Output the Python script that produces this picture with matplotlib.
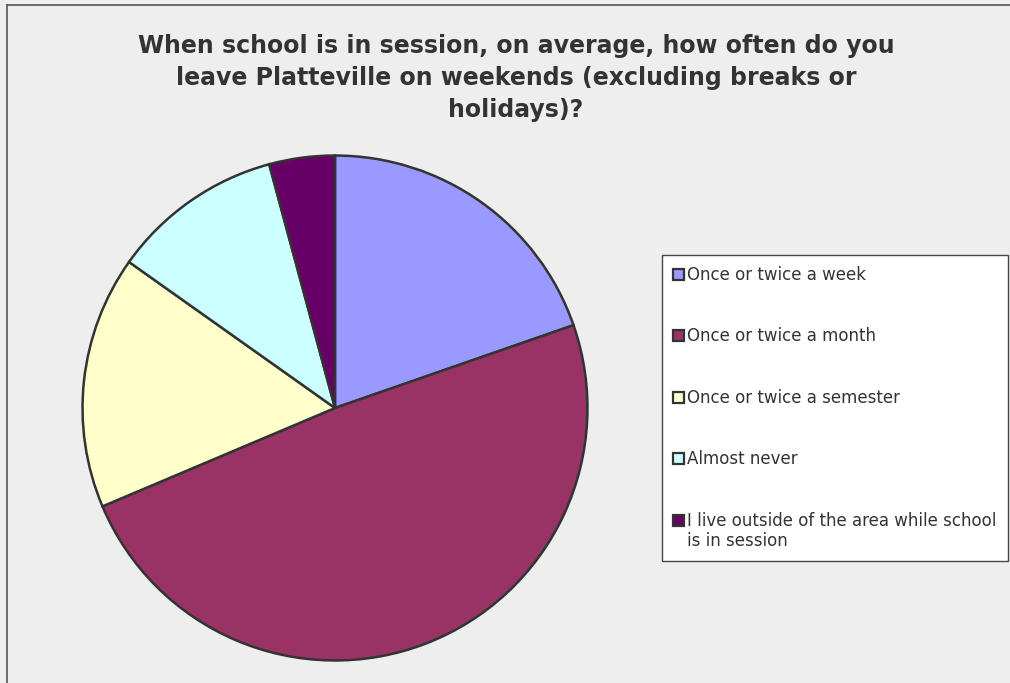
import matplotlib.pyplot as plt
from matplotlib.lines import Line2D
from matplotlib.patches import Rectangle

categories = [
    "Once or twice a week",
    "Once or twice a month",
    "Once or twice a semester",
    "Almost never",
    "I live outside of the area while school\nis in session",
]
shares = [19.7, 49.0, 16.2, 11.0, 4.2]
colors = ["#9999FF", "#993366", "#FFFFCC", "#CCFFFF", "#660066"]
title = ("When school is in session, on average, how often do you\n"
         "leave Platteville on weekends (excluding breaks or\n"
         "holidays)?")

W, H = 1010, 683
fig = plt.figure(figsize=(W / 100, H / 100), dpi=100)
fig.patch.set_facecolor("#EEEEEE")

def px(x, y, w=0, h=0):
    # pixel box (top-left origin) -> figure fraction
    return [x / W, 1 - (y + h) / H, w / W, h / H]

# outer chart frame (only top and left edges are visible)
fig.add_artist(Line2D([7 / W, 7 / W], [0, 1 - 5 / H], transform=fig.transFigure,
                      color="#555555", lw=1.2))
fig.add_artist(Line2D([7 / W, 1], [1 - 5 / H, 1 - 5 / H], transform=fig.transFigure,
                      color="#555555", lw=1.2))

fig.text(516 / W, 1 - 78 / H, title, ha="center", va="center", fontsize=17,
         fontweight="bold", color="#333333", linespacing=1.4)

cx, cy, r = 335, 408, 255
ax = fig.add_axes(px(cx - r, cy - r, 2 * r, 2 * r))
ax.pie(shares, colors=colors, startangle=90, counterclock=False, radius=1,
       wedgeprops={"edgecolor": "#333333", "linewidth": 1.8})
ax.set_xlim(-1.01, 1.01)
ax.set_ylim(-1.01, 1.01)
ax.set_aspect("equal")
ax.axis("off")

# legend box
fig.add_artist(Rectangle((662 / W, 1 - 561 / H), 346 / W, 306 / H,
                         transform=fig.transFigure, facecolor="white",
                         edgecolor="#444444", lw=1.0))
rows = [275, 336, 398, 459, 521]
for label, color, y in zip(categories, colors, rows):
    fig.add_artist(Rectangle((673 / W, 1 - (y + 5) / H), 11 / W, 11 / H,
                             transform=fig.transFigure, facecolor=color,
                             edgecolor="#333333", lw=1.6))
    fig.text(687 / W, 1 - (y - 9) / H, label, ha="left", va="top",
             fontsize=12, color="#333333", linespacing=1.15)

fig.savefig("out.png", dpi=100, facecolor=fig.get_facecolor())
